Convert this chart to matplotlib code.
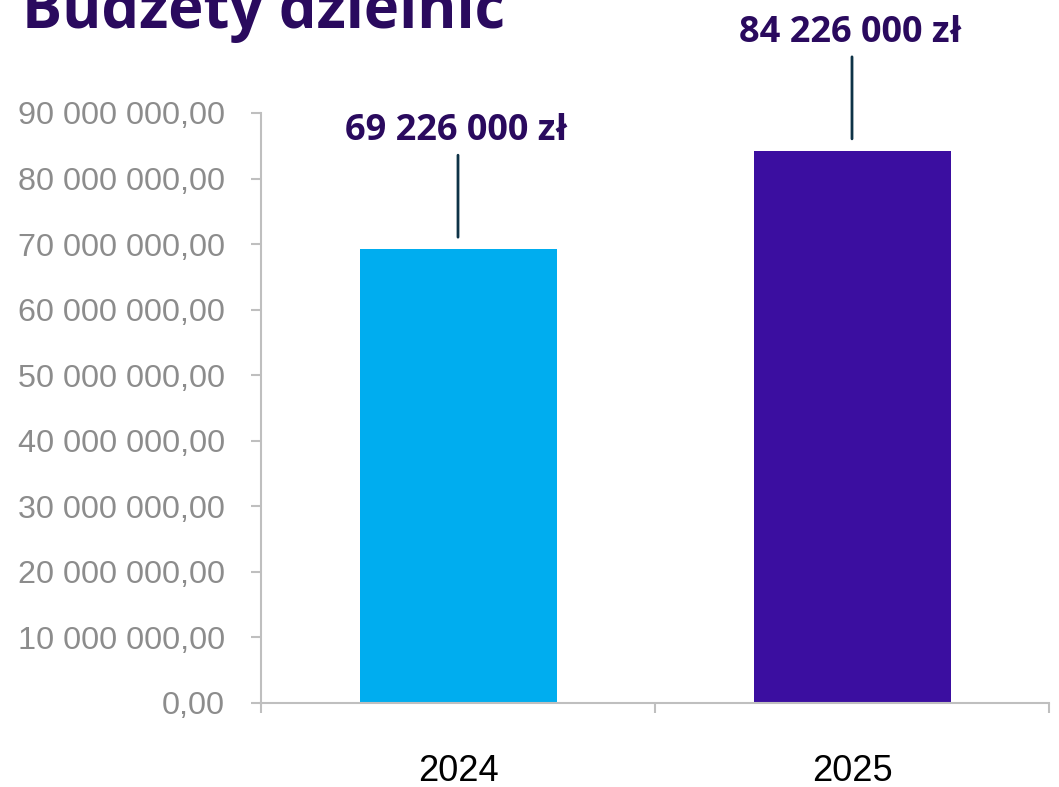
import matplotlib
matplotlib.use("Agg")
import matplotlib.pyplot as plt
from matplotlib.ticker import FuncFormatter

years = ["2024", "2025"]
budgets = [69226000, 84226000]
bar_labels = ["69 226 000 zł", "84 226 000 zł"]
bar_colors = ["#00adef", "#3b0ea0"]
title = "Budżety dzielnic"

px = 0.72  # points per pixel at dpi 100

fig = plt.figure(figsize=(10.59, 7.87), dpi=100)
ax = fig.add_axes([261 / 1059, 1 - 703 / 787, 788 / 1059, 590 / 787])

x = range(len(years))
ax.bar(x, budgets, width=0.5, color=bar_colors)

ax.set_xlim(-0.5, 1.5)
ax.set_ylim(0, 90000000)
ax.set_yticks(range(0, 90000001, 10000000))
ax.set_xticks([-0.5, 0.5, 1.5], minor=False)
ax.set_xticklabels(["", "", ""])
ax.set_xticks([0, 1], minor=True)
ax.set_xticklabels(years, minor=True)

def pl_format(v, pos):
    s = "{:,.2f}".format(v)
    return s.replace(",", " ").replace(".", ",")

ax.yaxis.set_major_formatter(FuncFormatter(pl_format))

for side in ["top", "right"]:
    ax.spines[side].set_visible(False)
for side in ["left", "bottom"]:
    ax.spines[side].set_color("#bfbfbf")
    ax.spines[side].set_linewidth(1.5)

ax.tick_params(axis="y", which="major", length=10 * px, width=1.5, color="#bfbfbf",
               labelsize=23.3, labelcolor="#8c8c8c", pad=26 * px)
ax.tick_params(axis="x", which="major", length=10 * px, width=1.5, color="#bfbfbf")
ax.tick_params(axis="x", which="minor", length=0, labelsize=26, labelcolor="black", pad=51 * px)
for lbl in ax.get_yticklabels() + ax.get_xticklabels(minor=True):
    lbl.set_fontfamily("Liberation Sans")

# labels with leader lines above the bars
for i, (v, lab) in enumerate(zip(budgets, bar_labels)):
    ax.annotate("", xy=(i, v), xytext=(0, 94 * px), textcoords="offset points",
                arrowprops=dict(arrowstyle="-", color="#0e3347", lw=2,
                                shrinkA=0, shrinkB=12 * px),
                annotation_clip=False)
    ax.annotate(lab, xy=(i, v), xytext=(-2 * px, 118 * px), textcoords="offset points",
                ha="center", va="center", fontsize=26, fontweight="bold",
                color="#2a0a5e", family="Open Sans", annotation_clip=False)

fig.text(22 / 1059, 1 - 28 / 787, title, ha="left", va="baseline",
         fontsize=43, fontweight="bold", color="#2a0a5e", family="Open Sans")

fig.savefig("out.png", dpi=100)
